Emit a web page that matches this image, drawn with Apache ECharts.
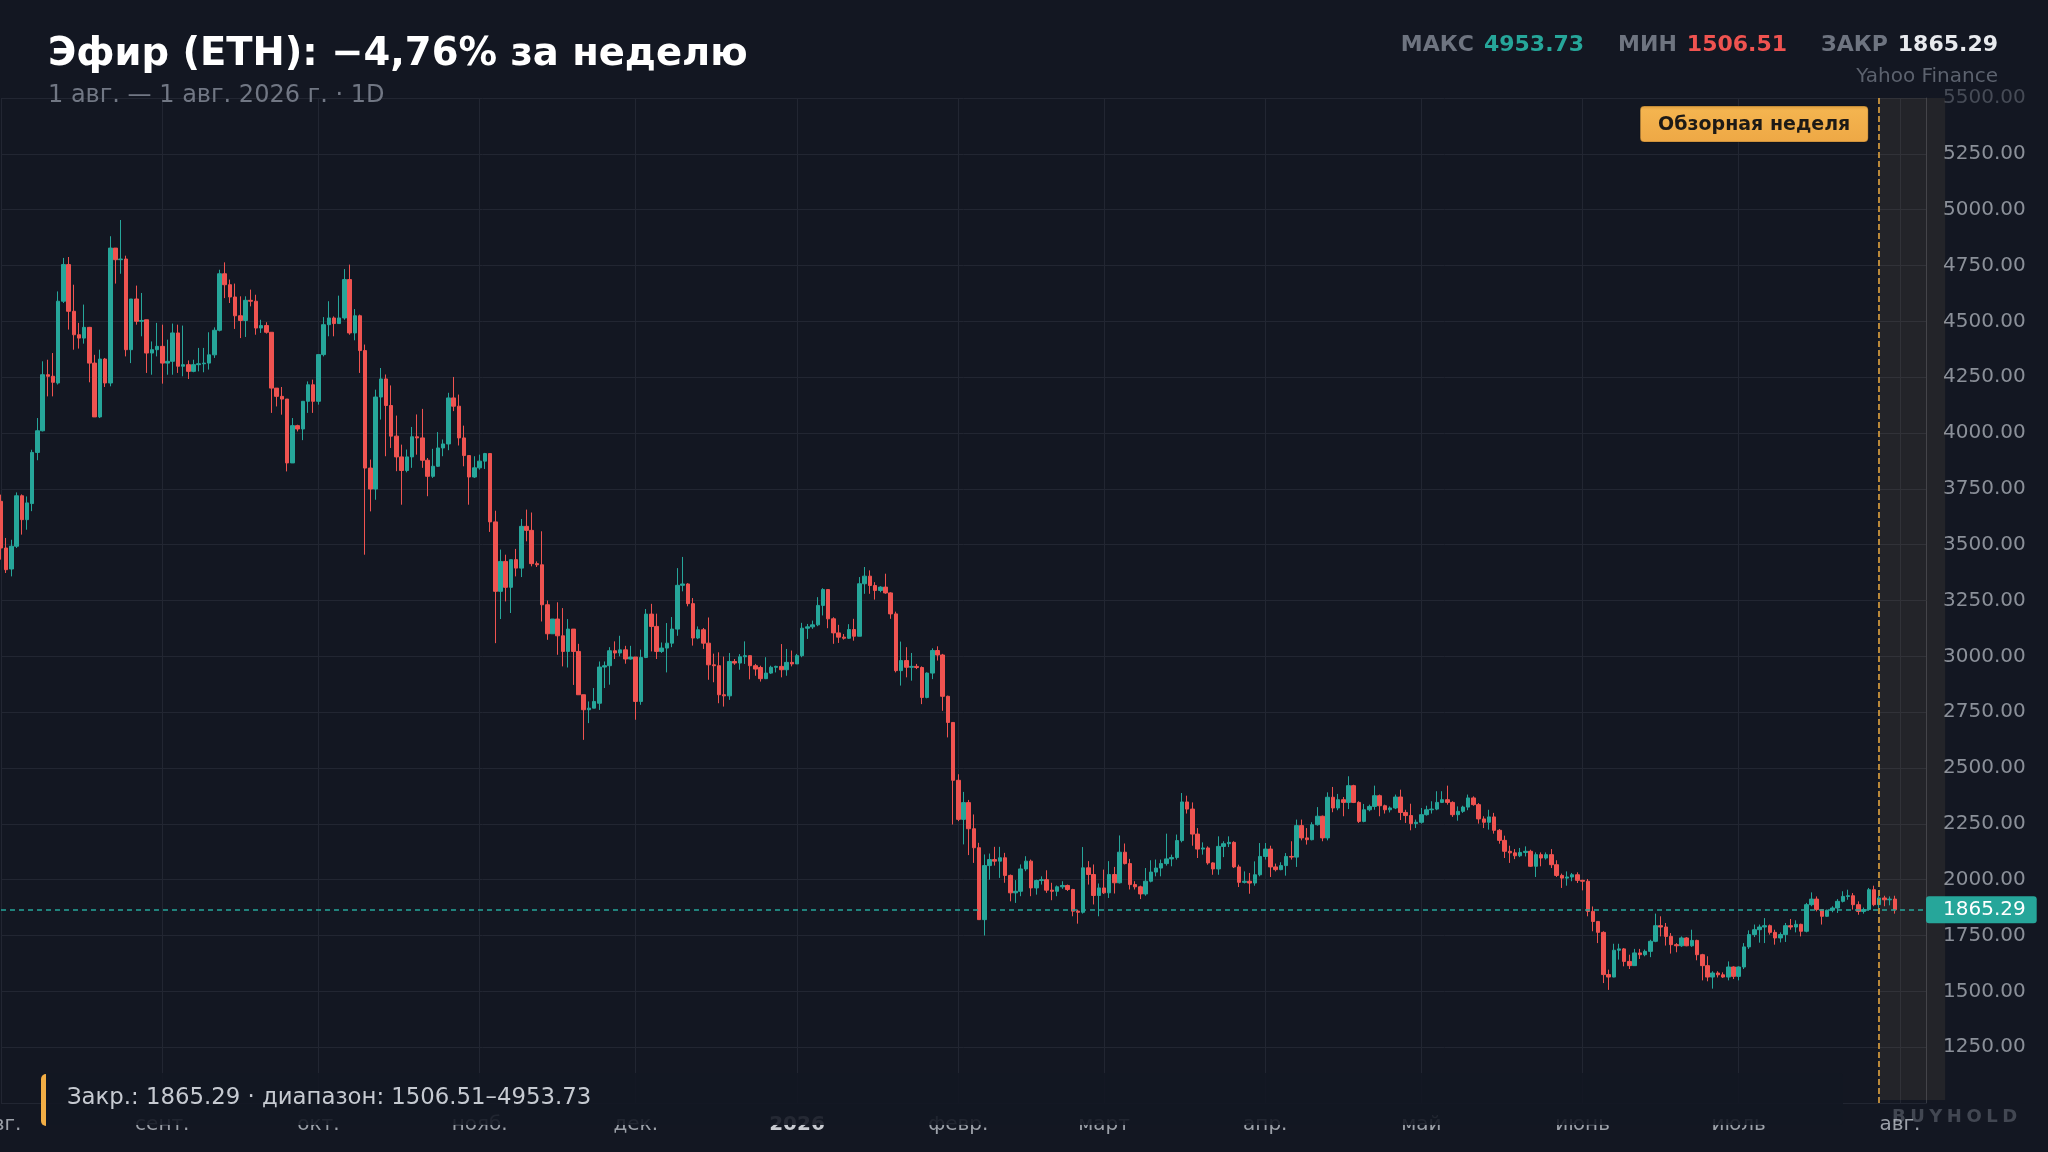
<!DOCTYPE html>
<html><head><meta charset="utf-8">
<script src="https://cdn.jsdelivr.net/npm/echarts@6/dist/echarts.min.js"></script>
<style>
html,body{margin:0;padding:0;background:#131722;overflow:hidden;}
#c{position:absolute;left:0;top:0;width:2048px;height:1152px;}
#wm{position:absolute;left:1892px;top:1105px;font:bold 18px "DejaVu Sans";letter-spacing:4.5px;color:rgba(190,196,208,0.28);z-index:5;}
</style></head><body>
<div id="c"></div><div id="wm">BUYHOLD</div>
<script>
const startDay = [2025, 7, 1];
const dayCount = 371;
const reviewStart = '2026-07-28';
const monthNames = ['янв.','февр.','март','апр.','май','июнь','июль','авг.','сент.','окт.','нояб.','дек.'];
const yTicks = {min: 1000, max: 5500, step: 250};

const opens = [
3694,3485,3391,3493,3719,3612,3684,3913,4010,4261,
4254,4224,4590,4754,4545,4440,4425,4473,4313,4072,
4331,4224,4828,4776,4779,4373,4600,4500,4507,4358,
4373,4388,4313,4321,4448,4299,4306,4276,4306,4310,
4313,4350,4460,4713,4664,4609,4525,4504,4594,4590,
4470,4481,4451,4201,4164,4152,3866,4033,4018,4142,
4216,4142,4351,4485,4515,4490,4515,4687,4448,4525,
4369,3843,3749,4161,4242,4123,3986,3893,3832,3893,
3983,3978,3878,3806,3851,3933,3951,4157,4120,3978,
3899,3803,3844,3874,3908,3602,3291,3425,3309,3433,
3395,3582,3564,3415,3410,3231,3101,3167,3092,3022,
3122,3022,2828,2761,2768,2790,2952,2958,3025,3015,
3029,2988,2997,2798,2995,3189,3134,3022,3037,3059,
3122,3318,3324,3236,3082,3119,3059,2962,2958,2828,
2823,2977,2970,2998,3003,2958,2950,2900,2925,2951,
2955,2940,2973,2966,3003,3126,3132,3141,3228,3299,
3168,3105,3086,3081,3120,3090,3325,3359,3317,3295,
3310,3284,3190,2936,2981,2951,2955,2950,2816,2925,
3026,3006,2821,2704,2445,2270,2345,2228,2143,1821,
2063,2090,2083,2098,2019,1941,1948,2048,2083,1963,
1996,2000,1953,1948,1968,1974,1956,1859,1854,2053,
2023,1929,1963,1941,2023,1986,2123,2072,1978,1968,
1936,1993,2034,2052,2072,2093,2099,2175,2348,2316,
2204,2137,2142,2075,2048,2149,2161,2167,2057,1988,
1993,1985,2022,2104,2137,2057,2045,2063,2104,2101,
2242,2187,2179,2246,2284,2187,2369,2321,2358,2346,
2421,2346,2261,2313,2328,2376,2331,2313,2321,2370,
2301,2287,2251,2257,2291,2313,2316,2346,2358,2346,
2291,2306,2325,2366,2336,2272,2257,2281,2221,2176,
2127,2120,2107,2122,2127,2060,2112,2097,2112,2067,
2019,2007,2012,2022,1997,1993,1858,1813,1764,1575,
1564,1684,1690,1634,1615,1672,1664,1679,1724,1794,
1788,1746,1709,1704,1739,1704,1728,1664,1615,1564,
1582,1574,1564,1609,1567,1609,1699,1754,1776,1788,
1794,1764,1739,1754,1794,1788,1800,1769,1888,1913,
1866,1836,1863,1873,1903,1925,1928,1888,1858,1866,
1955,1888,1918,1910,1913];

const closes = [
3485,3388,3493,3719,3612,3687,3913,4010,4261,4254,
4227,4590,4754,4545,4440,4425,4473,4313,4072,4331,
4224,4828,4776,4779,4373,4600,4500,4504,4358,4373,
4388,4313,4321,4448,4299,4306,4276,4306,4310,4313,
4350,4460,4713,4664,4609,4525,4504,4594,4590,4470,
4481,4451,4201,4164,4152,3866,4033,4018,4142,4216,
4142,4351,4485,4515,4490,4515,4687,4448,4525,4369,
3843,3749,4161,4242,4123,3986,3893,3832,3893,3983,
3978,3878,3806,3851,3933,3951,4157,4120,3978,3899,
3803,3844,3874,3908,3602,3291,3425,3309,3433,3395,
3582,3564,3415,3410,3231,3101,3167,3092,3022,3122,
3022,2828,2761,2768,2798,2952,2958,3025,3015,3029,
2988,2997,2798,2995,3189,3134,3022,3037,3059,3122,
3318,3324,3236,3082,3119,3059,2962,2958,2828,2823,
2977,2970,2998,3003,2958,2943,2900,2925,2951,2955,
2940,2973,2966,3003,3126,3132,3141,3228,3299,3168,
3105,3086,3081,3120,3090,3325,3359,3317,3295,3310,
3284,3190,2936,2981,2951,2955,2950,2816,2925,3026,
3006,2821,2704,2445,2270,2345,2228,2143,1821,2063,
2090,2083,2098,2019,1941,1948,2048,2083,1963,1996,
2000,1953,1948,1968,1974,1956,1859,1854,2053,2023,
1929,1963,1941,2023,1986,2123,2072,1978,1968,1936,
1993,2034,2052,2072,2093,2099,2175,2348,2316,2204,
2137,2142,2075,2048,2149,2161,2167,2057,1988,1993,
1985,2022,2104,2137,2057,2045,2063,2104,2101,2242,
2187,2179,2246,2284,2187,2369,2321,2358,2346,2421,
2346,2261,2313,2328,2376,2331,2313,2321,2370,2301,
2287,2251,2257,2291,2313,2316,2346,2358,2346,2291,
2306,2325,2366,2336,2272,2257,2281,2221,2176,2127,
2120,2107,2122,2127,2060,2112,2097,2112,2067,2019,
2007,2012,2022,1997,1993,1858,1813,1764,1575,1564,
1684,1690,1634,1615,1672,1664,1679,1724,1794,1788,
1746,1709,1704,1739,1704,1728,1664,1615,1564,1582,
1574,1564,1609,1567,1609,1699,1754,1776,1788,1794,
1764,1739,1754,1794,1788,1800,1769,1888,1913,1866,
1836,1863,1873,1903,1925,1928,1888,1858,1866,1955,
1888,1918,1910,1913,1865.29];

const lows = [
3433,3373,3358,3485,3545,3567,3650,3878,4007,4164,
4164,4217,4582,4463,4373,4378,4400,4227,4072,4067,
4206,4209,4669,4713,4343,4313,4485,4433,4269,4261,
4343,4221,4261,4261,4269,4254,4242,4272,4276,4272,
4284,4336,4455,4604,4582,4466,4425,4430,4567,4440,
4448,4445,4090,4119,4082,3828,3866,4007,3968,4090,
4090,4127,4343,4433,4433,4490,4507,4440,4415,4269,
3455,3649,3701,4060,3896,3933,3829,3679,3824,3844,
3903,3844,3717,3799,3848,3896,3923,4098,3944,3851,
3679,3799,3836,3839,3557,3059,3167,3246,3194,3358,
3355,3515,3403,3400,3156,3074,3101,3007,2955,2950,
2872,2828,2626,2701,2768,2760,2858,2873,2988,3000,
2967,2985,2716,2783,2992,3022,2988,3015,2928,3041,
3092,3291,3224,3048,3077,3033,2895,2884,2790,2775,
2805,2962,2940,2966,2897,2913,2887,2898,2921,2928,
2906,2913,2955,2966,2996,3078,3123,3135,3183,3126,
3056,3060,3075,3078,3070,3090,3280,3280,3254,3287,
3280,3168,2928,2869,2906,2891,2943,2786,2812,2898,
2981,2756,2637,2247,2262,2158,2110,2075,1821,1750,
2000,2063,2008,1986,1903,1896,1926,2038,1926,1933,
1978,1941,1908,1926,1959,1949,1836,1803,1848,1978,
1889,1836,1936,1918,1938,1983,2068,1956,1956,1913,
1928,1988,2015,2015,2063,2060,2090,2167,2296,2152,
2097,2112,2067,2022,2022,2101,2146,2052,1967,1983,
1937,1973,2015,2090,2012,2037,2042,2018,2090,2057,
2176,2157,2176,2242,2172,2176,2302,2311,2284,2316,
2343,2254,2257,2306,2313,2284,2296,2301,2316,2267,
2254,2221,2231,2251,2287,2296,2311,2343,2336,2281,
2264,2299,2311,2331,2251,2231,2224,2206,2161,2097,
2075,2092,2101,2104,2057,2012,2060,2090,2052,2012,
1963,1973,1993,1985,1952,1836,1769,1716,1537,1506.51,
1563,1642,1612,1600,1615,1645,1657,1653,1720,1746,
1705,1669,1675,1699,1702,1699,1639,1549,1545,1512,
1562,1560,1549,1555,1549,1600,1690,1743,1718,1716,
1754,1709,1719,1721,1776,1764,1746,1764,1881,1858,
1799,1833,1854,1851,1898,1910,1866,1843,1848,1863,
1881,1858,1881,1885,1848];

const highs = [
3724,3530,3522,3734,3725,3716,3925,4067,4321,4328,
4358,4634,4784,4788,4664,4493,4575,4475,4350,4373,
4336,4881,4828,4953.73,4794,4600,4660,4627,4507,4410,
4493,4485,4418,4490,4485,4481,4325,4328,4381,4381,
4451,4473,4731,4764,4687,4669,4612,4612,4642,4619,
4507,4496,4451,4201,4206,4152,4067,4037,4142,4231,
4239,4351,4519,4590,4522,4615,4734,4754,4555,4530,
4396,3881,4194,4291,4262,4213,4078,3948,3926,4027,
4083,4108,3888,3929,4004,3971,4180,4251,4172,4033,
3899,3896,3903,3911,3908,3652,3478,3455,3433,3481,
3615,3657,3644,3425,3560,3250,3167,3242,3216,3167,
3122,3056,2828,2798,2858,2977,2977,3041,3067,3092,
3047,3047,2997,3030,3212,3235,3191,3062,3149,3176,
3395,3445,3328,3261,3134,3127,3174,3012,3018,2999,
3015,2988,3010,3067,3003,2966,2958,2996,2958,2958,
3055,3033,3026,3011,3150,3145,3160,3265,3305,3299,
3175,3141,3100,3144,3168,3355,3400,3385,3332,3314,
3370,3287,3200,3066,3041,3015,2966,2955,2928,3036,
3045,3011,2824,2704,2472,2393,2357,2292,2165,2113,
2117,2147,2147,2120,2023,1998,2068,2105,2090,2000,
2015,2042,1986,1974,1993,1978,1959,1866,2146,2083,
2068,1983,2045,2083,2057,2198,2162,2093,1993,1973,
2052,2087,2090,2090,2206,2112,2202,2388,2376,2346,
2231,2167,2149,2078,2194,2172,2194,2172,2067,2037,
2030,2082,2164,2164,2152,2072,2078,2119,2172,2269,
2269,2231,2257,2325,2287,2391,2415,2384,2370,2463,
2425,2351,2339,2336,2421,2381,2336,2328,2381,2403,
2313,2340,2269,2321,2331,2351,2396,2396,2421,2351,
2328,2331,2381,2373,2343,2284,2313,2299,2227,2197,
2152,2137,2142,2149,2134,2122,2122,2122,2137,2087,
2027,2037,2030,2033,2000,2003,1880,1813,1769,1597,
1713,1713,1694,1664,1690,1690,1687,1731,1848,1836,
1806,1761,1716,1746,1743,1776,1731,1668,1657,1590,
1590,1585,1634,1612,1612,1716,1773,1799,1799,1828,
1799,1776,1764,1806,1824,1818,1803,1896,1943,1925,
1866,1866,1881,1913,1948,1955,1940,1903,1875,1963,
1973,1933,1928,1925,1928];

// categories (one per calendar day)
const categories = [];
for (let i = 0; i < dayCount; i++) {
  const d = new Date(Date.UTC(startDay[0], startDay[1], startDay[2] + i));
  categories.push(d.toISOString().slice(0, 10));
}
const candles = opens.map((o, i) => [o, closes[i], lows[i], highs[i]]);
const lastClose = closes[closes.length - 1];
const maxHigh = Math.max.apply(null, highs);
const minLow = Math.min.apply(null, lows);

const FONT = '"DejaVu Sans", "Noto Sans", sans-serif';
const UP = '#26a69a', DOWN = '#ef5350', BG = '#131722', GRID = '#222632';

const chart = echarts.init(document.getElementById('c'), null, {renderer: 'canvas', width: 2048, height: 1152});
const isMonthStart = (i, v) => typeof v === 'string' ? v.slice(8) === '01' : categories[i].slice(8) === '01';

chart.setOption({
  backgroundColor: BG,
  animation: false,
  textStyle: {fontFamily: FONT},
  grid: {left: 1, right: 122, top: 98, bottom: 49, containLabel: false, outerBoundsMode: 'none'},
  xAxis: {
    type: 'category', data: categories, boundaryGap: false,
    axisLine: {show: false}, axisTick: {show: false},
    axisLabel: {
      interval: isMonthStart, margin: 12, color: '#9ca1a9', fontSize: 20, fontFamily: FONT,
      formatter: (v) => {
        const m = parseInt(v.slice(5, 7), 10) - 1;
        if (m === 0) return '{y|' + v.slice(0, 4) + '}';
        return monthNames[m];
      },
      rich: {y: {fontWeight: 'bold', color: '#c9ccd2', fontSize: 20, fontFamily: FONT}}
    },
    splitLine: {show: true, interval: isMonthStart, lineStyle: {color: GRID, width: 1}}
  },
  yAxis: {
    type: 'value', position: 'right', min: yTicks.min, max: yTicks.max, interval: yTicks.step, scale: false,
    axisLine: {show: true, lineStyle: {color: '#363a44'}}, axisTick: {show: false},
    axisLabel: {
      margin: 17, color: '#8b9099', fontSize: 20, fontFamily: FONT, showMinLabel: false,
      formatter: (v) => v === yTicks.max ? '{d|' + v.toFixed(2) + '}' : v.toFixed(2),
      rich: {d: {color: '#464b56', fontSize: 20, fontFamily: FONT}}
    },
    splitLine: {lineStyle: {color: GRID, width: 1}}
  },
  series: [{
    type: 'candlestick', data: candles, barWidth: 4, clip: false,
    itemStyle: {color: UP, color0: DOWN, borderColor: UP, borderColor0: DOWN, borderWidth: 1},
    markLine: {
      symbol: 'none', silent: true, animation: false,
      data: [
        {yAxis: lastClose,
         lineStyle: {color: UP, type: [5, 4], width: 1.5},
         label: {show: true, position: 'end', distance: 0, formatter: lastClose.toFixed(2),
                 color: '#ffffff', backgroundColor: UP, fontSize: 20, fontFamily: FONT,
                 padding: [4, 11, 3, 17], borderRadius: 3}},
        {xAxis: reviewStart,
         lineStyle: {color: '#b9883a', type: [6, 3], width: 2},
         label: {show: false}}
      ]
    }
  }]
});

const gx = chart.convertToPixel({xAxisIndex: 0}, reviewStart);
const yTop = chart.convertToPixel({yAxisIndex: 0}, yTicks.max);
const yBot = chart.convertToPixel({yAxisIndex: 0}, yTicks.min);
const noteText = 'Закр.: ' + lastClose.toFixed(2) + ' · диапазон: ' + minLow.toFixed(2) + '–' + maxHigh.toFixed(2);

function txt(x, y, text, font, fill, align, extra) {
  return Object.assign({
    type: 'text', z: 120,
    style: {x: x, y: y, text: text, font: font, fill: fill,
            align: align || 'left', textAlign: align || 'left',
            verticalAlign: 'middle', textVerticalAlign: 'middle'}
  }, extra || {});
}

chart.setOption({
  graphic: [
    {type: 'rect', z: 1, silent: true,
     shape: {x: gx, y: yTop, width: 66, height: yBot - yTop - 3},
     style: {fill: 'rgba(255,215,140,0.07)'}},
    {type: 'rect', z: 110, silent: true,
     shape: {x: gx - 11 - 228, y: 106, width: 228, height: 36, r: 4},
     style: {fill: new echarts.graphic.LinearGradient(0, 0, 0, 1, [
       {offset: 0, color: '#d99a3c'}, {offset: 0.12, color: '#f4b44f'}, {offset: 1, color: '#eea845'}]),
       stroke: 'rgba(0,0,0,0.25)', lineWidth: 1}},
    txt(gx - 11 - 114, 125, 'Обзорная неделя', 'bold 19px ' + FONT, '#1d1a16', 'center'),
    {type: 'rect', z: 100, silent: true,
     shape: {x: 43, y: 1073, width: 1800, height: 52, r: [0, 4, 4, 0]},
     style: {fill: 'rgba(19,23,34,0.9)'}},
    {type: 'rect', z: 101, silent: true,
     shape: {x: 41, y: 1074, width: 5, height: 52, r: [5, 0, 0, 5]},
     style: {fill: '#f2ae45'}},
    txt(67, 1098, noteText, '22.8px ' + FONT, '#c6cad1', 'left'),
    txt(48, 55, 'Эфир (ETH): −4,76% за неделю', 'bold 38.5px ' + FONT, '#ffffff', 'left'),
    txt(48, 96, '1 авг. — 1 авг. 2026 г. · 1D', '24px ' + FONT, '#717784', 'left'),
    {type: 'text', z: 120, silent: true,
     style: {x: 1998, y: 45, align: 'right', textAlign: 'right', verticalAlign: 'middle', textVerticalAlign: 'middle',
       text: '{l|МАКС}{u|' + maxHigh.toFixed(2) + '}{l|МИН}{d|' + minLow.toFixed(2) + '}{l|ЗАКР}{w|' + lastClose.toFixed(2) + '}',
       rich: {
         l: {fontFamily: FONT, fontSize: 22, fontWeight: 'bold', fill: '#6e7480', padding: [0, 10, 0, 0]},
         u: {fontFamily: FONT, fontSize: 22, fontWeight: 'bold', fill: UP, padding: [0, 34, 0, 0]},
         d: {fontFamily: FONT, fontSize: 22, fontWeight: 'bold', fill: DOWN, padding: [0, 34, 0, 0]},
         w: {fontFamily: FONT, fontSize: 22, fontWeight: 'bold', fill: '#e8eaee'}
       }}},
    txt(1998, 77, 'Yahoo Finance', '20px ' + FONT, '#5c626e', 'right')
  ]
});
</script>
</body></html>
